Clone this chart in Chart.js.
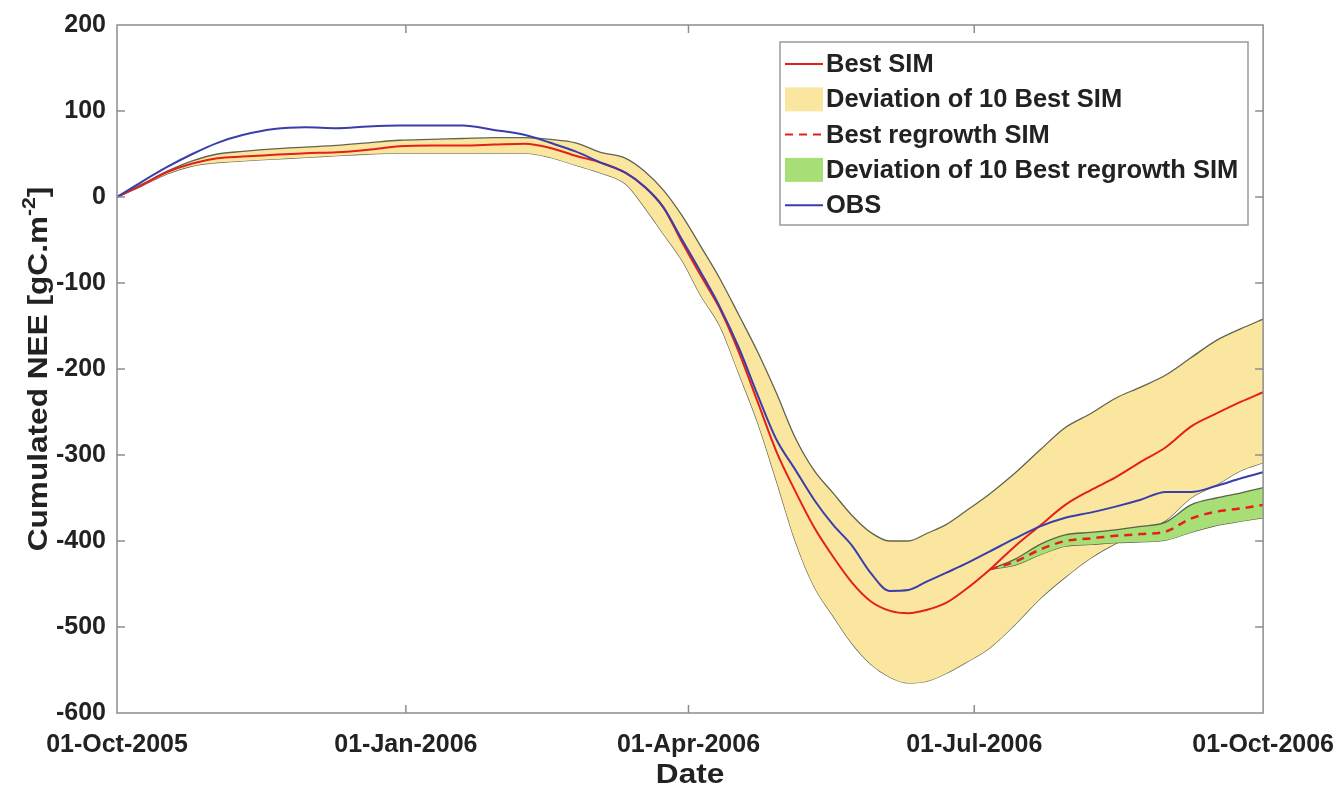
<!DOCTYPE html>
<html>
<head>
<meta charset="utf-8">
<script src="https://cdn.jsdelivr.net/npm/chart.js@4.4.1/dist/chart.umd.min.js"></script>
<style>
  html, body { margin: 0; padding: 0; background: #fff; }
  #wrap { width: 1343px; height: 796px; }
</style>
</head>
<body>
<div id="wrap"><canvas id="neeChart"></canvas></div>
<script>
// days counted from 01-Oct-2005
const days = [0, 8, 16, 24, 32, 40, 50, 60, 70, 80, 90, 100, 110, 120, 130, 138, 146, 154, 162, 168,
  174, 180, 186, 192, 198, 204, 210, 216, 222, 228, 234, 240, 246, 252, 258, 264, 270, 278, 286, 294,
  302, 310, 318, 326, 334, 342, 350, 358, 365];

const obs = [0, 18, 35, 50, 63, 72, 79, 81, 80, 82, 83, 83, 83, 78, 72, 63, 53, 40, 28, 12,
  -12, -50, -88, -128, -175, -230, -282, -317, -352, -381, -405, -437, -458, -457, -447, -437, -427, -412, -397, -383,
  -373, -367, -360, -352, -343, -343, -336, -327, -320];

const bestSim = [0, 14, 29, 39, 45, 47, 49, 51, 52, 55, 59, 60, 60, 61, 62, 57, 48, 40, 28, 12,
  -12, -53, -92, -130, -180, -238, -296, -342, -384, -418, -448, -470, -481, -484, -480, -472, -457, -433, -406, -382,
  -358, -341, -326, -308, -291, -267, -252, -238, -227];

const bestHi = [0, 15, 30, 42, 50, 53, 56, 58, 60, 63, 66, 67, 68, 69, 69, 67, 63, 52, 45, 30,
  8, -22, -58, -95, -137, -180, -228, -280, -318, -344, -370, -390, -400, -400, -391, -381, -366, -345, -321, -294,
  -268, -252, -234, -221, -207, -187, -167, -153, -142];

const bestLo = [0, 13, 27, 36, 40, 42, 44, 46, 48, 50, 51, 51, 51, 51, 51, 46, 37, 28, 15, -12,
  -43, -74, -115, -150, -205, -262, -330, -400, -453, -487, -519, -543, -558, -565, -563, -554, -542, -524, -497, -467,
  -442, -420, -403, -390, -376, -350, -335, -318, -309];

// regrowth runs start after the July harvest
const rgDays = [278, 286, 294, 302, 310, 318, 326, 334, 342, 350, 358, 365];
const regrowth = [-433, -424, -410, -400, -397, -394, -392, -389, -374, -366, -362, -358];
const regrowthHi = [-433, -421, -404, -393, -390, -387, -383, -378, -358, -350, -344, -338];
const regrowthLo = [-433, -428, -416, -406, -404, -402, -401, -399, -390, -382, -377, -373];

const tickDays = [0, 92, 182, 273, 365];
const tickLabels = ['01-Oct-2005', '01-Jan-2006', '01-Apr-2006', '01-Jul-2006', '01-Oct-2006'];

const legendNames = ['Best SIM', 'Deviation of 10 Best SIM', 'Best regrowth SIM',
  'Deviation of 10 Best regrowth SIM', 'OBS'];

const RED = 'rgb(228,32,28)';
const BLUE = 'rgb(58,62,170)';
const YELLOW = 'rgb(251,230,160)';
const GREEN = 'rgb(168,222,118)';
const EDGE = 'rgba(80,84,64,0.9)';
const FONT = '"Liberation Sans", Arial, sans-serif';
const TXT = '#222';

const xy = (xs, ys) => xs.map((x, i) => ({ x: x, y: ys[i] }));

const lineBase = { pointRadius: 0, cubicInterpolationMode: 'monotone', fill: false };

// box, inward ticks on all four sides
const framePlugin = {
  id: 'frame',
  afterDatasetsDraw(chart) {
    const { ctx, chartArea: a, scales } = chart;
    ctx.save();
    ctx.strokeStyle = '#8d8d8d';
    ctx.lineWidth = 1.5;
    ctx.strokeRect(a.left, a.top, a.right - a.left, a.bottom - a.top);
    ctx.beginPath();
    for (let v = -500; v <= 100; v += 100) {
      const y = scales.y.getPixelForValue(v);
      ctx.moveTo(a.left, y); ctx.lineTo(a.left + 8, y);
      ctx.moveTo(a.right, y); ctx.lineTo(a.right - 8, y);
    }
    tickDays.slice(1, -1).forEach(d => {
      const x = scales.x.getPixelForValue(d);
      ctx.moveTo(x, a.top); ctx.lineTo(x, a.top + 8);
      ctx.moveTo(x, a.bottom); ctx.lineTo(x, a.bottom - 8);
    });
    ctx.stroke();
    ctx.restore();
  }
};

// axis titles, drawn slightly wide; the y title carries a superscript exponent
const titlePlugin = {
  id: 'axisTitles',
  afterDraw(chart) {
    const { ctx, chartArea: a } = chart;
    const main = 'bold 27px ' + FONT;
    const small = 'bold 18px ' + FONT;
    const stretch = 1.17;
    ctx.save();
    ctx.fillStyle = TXT;
    ctx.textBaseline = 'middle';

    // x title
    ctx.save();
    ctx.translate((a.left + a.right) / 2, 776);
    ctx.scale(stretch, 1);
    ctx.font = main;
    ctx.textAlign = 'center';
    ctx.fillText('Date', 0, 0);
    ctx.restore();

    // y title
    const p1 = 'Cumulated NEE [gC.m', p2 = '-2', p3 = ']';
    ctx.font = main;
    const w1 = ctx.measureText(p1).width, w3 = ctx.measureText(p3).width;
    ctx.font = small;
    const w2 = ctx.measureText(p2).width;
    const total = w1 + w2 + w3;
    ctx.translate(40, (a.top + a.bottom) / 2);
    ctx.rotate(-Math.PI / 2);
    ctx.scale(stretch, 1);
    ctx.textAlign = 'left';
    let x = -total / 2;
    ctx.font = main; ctx.fillText(p1, x, 0); x += w1;
    ctx.font = small; ctx.fillText(p2, x, -10); x += w2;
    ctx.font = main; ctx.fillText(p3, x, 0);
    ctx.restore();
  }
};

// legend box in the upper right corner of the axes
const legendPlugin = {
  id: 'boxLegend',
  afterDraw(chart) {
    const ctx = chart.ctx;
    const bx = 780, by = 42, bw = 468, bh = 183;
    ctx.save();
    ctx.fillStyle = '#fff';
    ctx.fillRect(bx, by, bw, bh);
    ctx.strokeStyle = '#9a9a9a';
    ctx.lineWidth = 1.5;
    ctx.strokeRect(bx, by, bw, bh);
    const styles = [
      { kind: 'line', color: RED },
      { kind: 'patch', color: YELLOW },
      { kind: 'line', color: RED, dash: [8, 6] },
      { kind: 'patch', color: GREEN },
      { kind: 'line', color: BLUE }
    ];
    legendNames.forEach((name, i) => {
      const cy = by + 22 + i * 35.3;
      const s = styles[i];
      if (s.kind === 'patch') {
        ctx.fillStyle = s.color;
        ctx.fillRect(bx + 5, cy - 12, 38, 24);
      } else {
        ctx.strokeStyle = s.color;
        ctx.lineWidth = 2;
        ctx.setLineDash(s.dash || []);
        ctx.beginPath();
        ctx.moveTo(bx + 5, cy); ctx.lineTo(bx + 43, cy);
        ctx.stroke();
        ctx.setLineDash([]);
      }
      ctx.fillStyle = TXT;
      ctx.font = 'bold 25.5px ' + FONT;
      ctx.textBaseline = 'middle';
      ctx.fillText(name, bx + 46, cy + 1);
    });
    ctx.restore();
  }
};

new Chart(document.getElementById('neeChart'), {
  type: 'line',
  data: {
    datasets: [
      { ...lineBase, label: 'OBS', data: xy(days, obs), borderColor: BLUE, borderWidth: 2 },
      { ...lineBase, label: 'Best SIM', data: xy(days, bestSim), borderColor: RED, borderWidth: 2 },
      { ...lineBase, label: 'Best regrowth SIM', data: xy(rgDays, regrowth), borderColor: RED,
        borderWidth: 2.5, borderDash: [8, 6] },
      { ...lineBase, label: 'regrowth upper', data: xy(rgDays, regrowthHi), borderColor: EDGE,
        borderWidth: 1.3, fill: '+1', backgroundColor: GREEN },
      { ...lineBase, label: 'regrowth lower', data: xy(rgDays, regrowthLo), borderColor: EDGE, borderWidth: 1.3 },
      { ...lineBase, label: 'best upper', data: xy(days, bestHi), borderColor: EDGE,
        borderWidth: 1.3, fill: '+1', backgroundColor: YELLOW },
      { ...lineBase, label: 'best lower', data: xy(days, bestLo), borderColor: EDGE, borderWidth: 1.3 }
    ]
  },
  options: {
    responsive: true,
    maintainAspectRatio: false,
    animation: false,
    devicePixelRatio: 1,
    layout: { padding: { top: 25, right: 69, bottom: 0, left: 0 } },
    plugins: { legend: { display: false }, tooltip: { enabled: false } },
    scales: {
      x: {
        type: 'linear',
        min: 0,
        max: 365,
        afterBuildTicks: s => { s.ticks = tickDays.map(v => ({ value: v })); },
        afterFit: s => { s.height = 83; },
        grid: { display: false },
        border: { display: false },
        ticks: {
          autoSkip: false, maxRotation: 0, padding: 9, color: TXT,
          font: { family: FONT, size: 25, weight: 'bold' },
          callback: (v, i) => tickLabels[i]
        }
      },
      y: {
        min: -600,
        max: 200,
        afterFit: s => { s.width = 117; },
        grid: { display: false },
        border: { display: false },
        ticks: {
          stepSize: 100, padding: 3, color: TXT,
          font: { family: FONT, size: 25, weight: 'bold' }
        }
      }
    }
  },
  plugins: [framePlugin, titlePlugin, legendPlugin]
});
</script>
</body>
</html>
